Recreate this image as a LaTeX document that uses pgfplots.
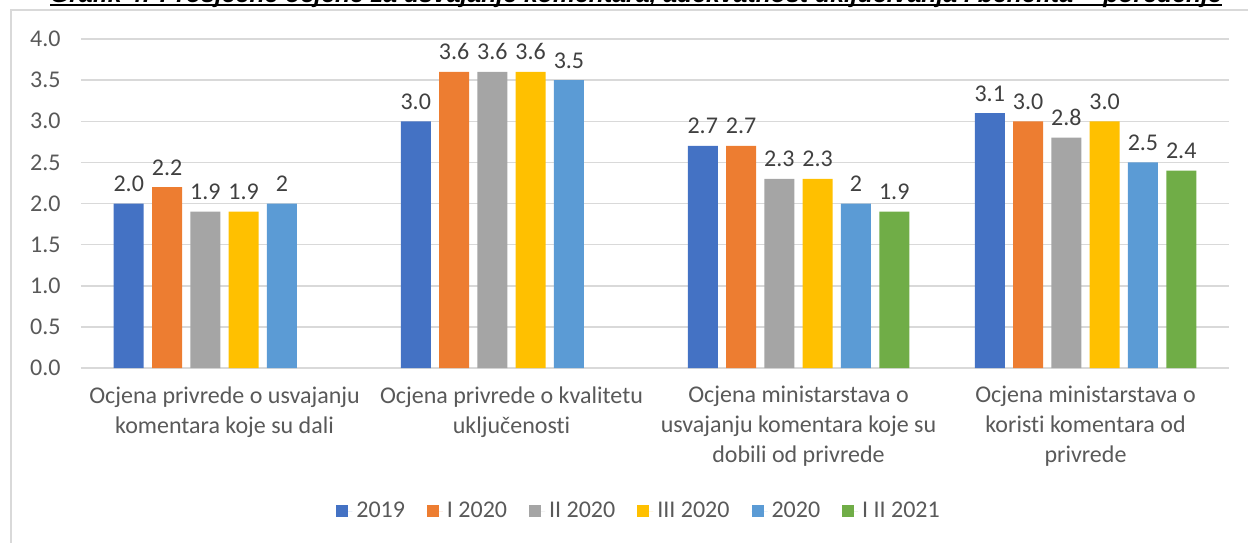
\documentclass[border=0pt]{standalone}
\usepackage{fontspec}
\setmainfont{Carlito}[Ligatures={NoCommon}]
\newfontfamily\titlefont{Liberation Sans}
\usepackage{pgfplots}
\pgfplotsset{compat=1.18}
\definecolor{cA}{HTML}{4472C4}
\definecolor{cB}{HTML}{ED7D31}
\definecolor{cC}{HTML}{A5A5A5}
\definecolor{cD}{HTML}{FFC000}
\definecolor{cE}{HTML}{5B9BD5}
\definecolor{cF}{HTML}{70AD47}
\definecolor{gridc}{HTML}{D9D9D9}
\definecolor{labc}{HTML}{404040}
\definecolor{tickc}{HTML}{595959}
\begin{document}
\begin{tikzpicture}
\path[use as bounding box, clip] (0,0) rectangle (624pt,271pt);
\draw[color=gridc, line width=0.75pt] (5.5pt,-5pt) -- (5.5pt,266pt) -- (640pt,266pt);
\node[anchor=base, inner sep=0pt] at (318pt,269.5pt) {\resizebox{586pt}{!}{\titlefont\bfseries\itshape\fontsize{11}{13}\selectfont Grafik 4: Prosječne ocjene za usvajanje komentara, adekvatnost uključivanja i benefita -- poređenje}};
\draw[line width=1pt] (25pt,268.25pt) -- (611pt,268.25pt);
\begin{axis}[
  scale only axis, width=574pt, height=164.5pt,
  at={(40.5pt,87pt)}, anchor=south west,
  xmin=-0.5, xmax=3.5, ymin=0, ymax=4,
  ybar=4.15pt, bar width=15pt,
  xtick={0,1,2,3},
  xticklabels={{Ocjena privrede o usvajanju\\komentara koje su dali},
               {Ocjena privrede o kvalitetu\\uključenosti},
               {Ocjena ministarstava o\\usvajanju komentara koje su\\dobili od privrede},
               {Ocjena ministarstava o\\koristi komentara od\\privrede}},
  xticklabel style={font=\fontsize{12}{15}\selectfont, text=tickc, align=center, anchor=north, inner sep=0pt, yshift=-9pt},
  ytick={0,0.5,...,4},
  yticklabel style={font=\fontsize{12}{14}\selectfont, text=tickc, anchor=east, inner sep=0pt, xshift=-10pt,
     /pgf/number format/.cd, fixed, fixed zerofill, precision=1, assume math mode=true},
  ymajorgrids, grid style={gridc, line width=0.75pt},
  axis x line*=bottom, axis y line*=left,
  y axis line style={draw=none},
  x axis line style={gridc, line width=0.75pt, -},
  major tick length=0pt,
  point meta=explicit symbolic,
  nodes near coords,
  every node near coord/.append style={font=\fontsize{12}{14}\selectfont, text=labc, anchor=base, inner sep=0pt, yshift=6pt},
  legend style={at={(0.487,-0.435)}, anchor=center, draw=none, font=\fontsize{12}{14}\selectfont, text=tickc,
     legend columns=-1, /tikz/every even column/.append style={column sep=9pt}, nodes={inner sep=2pt}},
  legend image code/.code={\fill[#1] (0pt,-3pt) rectangle (6pt,3pt); \path (0pt,0pt) -- (8pt,0pt);},
]
\addplot[fill=cA, draw=none] coordinates {(0,2.0)[2.0] (1,3.0)[3.0] (2,2.7)[2.7] (3,3.1)[3.1]};
\addplot[fill=cB, draw=none] coordinates {(0,2.2)[2.2] (1,3.6)[3.6] (2,2.7)[2.7] (3,3.0)[3.0]};
\addplot[fill=cC, draw=none] coordinates {(0,1.9)[1.9] (1,3.6)[3.6] (2,2.3)[2.3] (3,2.8)[2.8]};
\addplot[fill=cD, draw=none] coordinates {(0,1.9)[1.9] (1,3.6)[3.6] (2,2.3)[2.3] (3,3.0)[3.0]};
\addplot[fill=cE, draw=none] coordinates {(0,2)[2] (1,3.5)[3.5] (2,2)[2] (3,2.5)[2.5]};
\addplot[fill=cF, draw=none] coordinates {(2,1.9)[1.9] (3,2.4)[2.4]};
\legend{2019, I 2020, II 2020, III 2020, 2020, I II 2021}
\end{axis}
\end{tikzpicture}
\end{document}
